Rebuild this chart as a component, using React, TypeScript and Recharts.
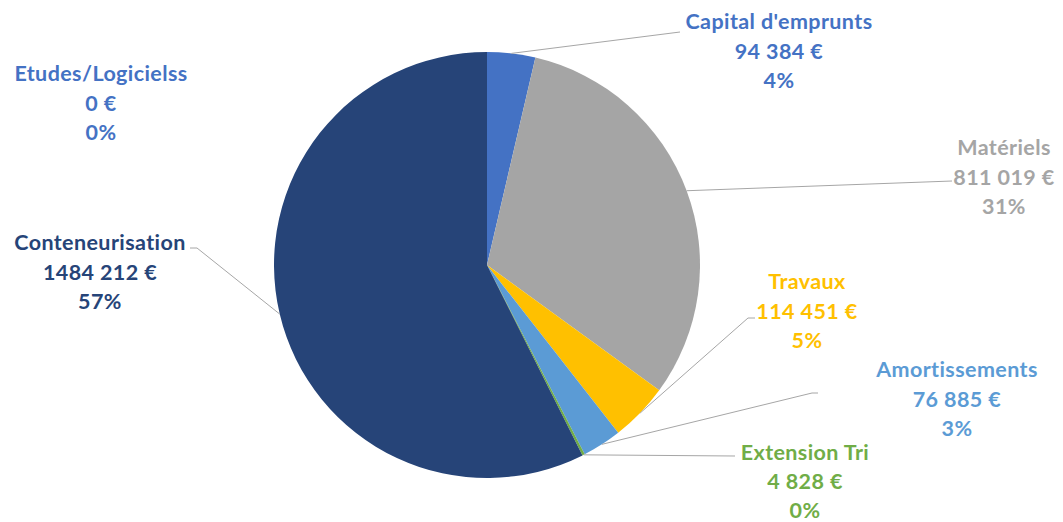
import { PieChart, Pie, Cell } from 'recharts'

// Répartition des coûts
const categories = [
  "Capital d'emprunts",
  'Matériels',
  'Travaux',
  'Amortissements',
  'Extension Tri',
  'Conteneurisation',
  'Etudes/Logicielss'
]
const amounts = [94384, 811019, 114451, 76885, 4828, 1484212, 0]
const amountLabels = ['94 384 €', '811 019 €', '114 451 €', '76 885 €', '4 828 €', '1484 212 €', '0 €']
const percentLabels = ['4%', '31%', '5%', '3%', '0%', '57%', '0%']

const sliceColors = ['#4472C4', '#A5A5A5', '#FFC000', '#5B9BD5', '#70AD47', '#264478', '#4472C4']
const textColors = ['#4472C4', '#A5A5A5', '#FFC000', '#5B9BD5', '#70AD47', '#264478', '#4472C4']

// label placement (text centre of first line) and leader elbow points
const labelLayout = [
  { x: 779, y: 21, leader: [[680, 32]] },
  { x: 1004, y: 147, leader: [[952, 181]] },
  { x: 807, y: 281, leader: [[748, 318], [755, 318]] },
  { x: 957, y: 369, leader: [[812, 393], [818, 393]] },
  { x: 805, y: 452, leader: [[735, 456]] },
  { x: 100, y: 242, leader: [[197, 248], [190, 248]] },
  { x: 101, y: 73, leader: [] as number[][] }
]

const chartData = categories.map((name, i) => ({ name, value: amounts[i] }))

const RAD = Math.PI / 180
const LINE_GAP = 29.5

function renderLabel(props: any) {
  const { cx, cy, midAngle, outerRadius, index } = props
  const layout = labelLayout[index]
  const color = textColors[index]
  const sx = cx + outerRadius * Math.cos(-midAngle * RAD)
  const sy = cy + outerRadius * Math.sin(-midAngle * RAD)
  const pts = [[sx, sy], ...layout.leader]
  // the last label line sits close to the bottom edge, keep it a little tighter
  const gap = index === 4 ? 29 : LINE_GAP
  return (
    <g key={`label-${index}`}>
      {layout.leader.length > 0 && (
        <polyline
          points={pts.map((p) => p.join(',')).join(' ')}
          fill="none"
          stroke="#A6A6A6"
          strokeWidth={1}
        />
      )}
      <text
        x={layout.x}
        textAnchor="middle"
        dominantBaseline="central"
        fill={color}
        fontFamily="Lato, 'Open Sans', sans-serif"
        fontWeight="bold"
        fontSize={21.5}
        letterSpacing={0.4}
      >
        <tspan x={layout.x} y={layout.y}>{categories[index]}</tspan>
        <tspan x={layout.x} y={layout.y + gap}>{amountLabels[index]}</tspan>
        <tspan x={layout.x} y={layout.y + gap * 2}>{percentLabels[index]}</tspan>
      </text>
    </g>
  )
}

export default function App() {
  return (
    <div style={{ position: 'absolute', left: 0, top: 0, width: 1063, height: 522, background: '#fff' }}>
      <PieChart width={1063} height={522} margin={{ top: 0, right: 0, bottom: 0, left: 0 }}>
        <Pie
          data={chartData}
          dataKey="value"
          nameKey="name"
          cx={487}
          cy={265}
          outerRadius={213}
          startAngle={90}
          endAngle={-270}
          stroke="none"
          label={renderLabel}
          labelLine={false}
          isAnimationActive={false}
        >
          {chartData.map((entry, index) => (
            <Cell key={`cell-${index}`} fill={sliceColors[index]} />
          ))}
        </Pie>
      </PieChart>
    </div>
  )
}
